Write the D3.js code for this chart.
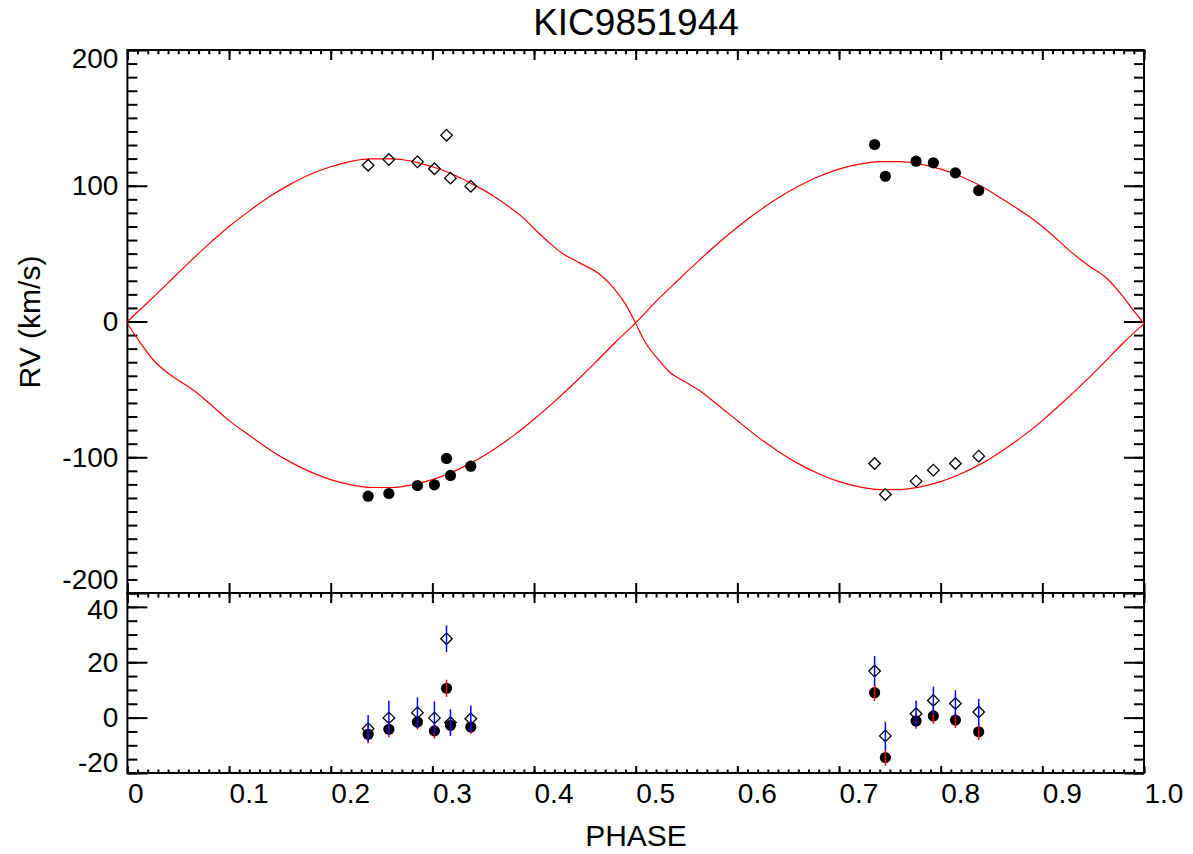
<!DOCTYPE html>
<meta charset="utf-8">
<style>
  body { margin: 0; background: #fff; }
  text { font-family: "Liberation Sans", Arial, Helvetica, sans-serif; fill: #000; }
</style>
<svg width="1193" height="854"></svg>
<script src="https://cdnjs.cloudflare.com/ajax/libs/d3/7.8.5/d3.min.js"></script>
<script>
// model RV curves (phase, km/s)
var modelPhaseA = [0, 0.02, 0.04, 0.06, 0.08, 0.10, 0.12, 0.14, 0.16, 0.18, 0.20, 0.22, 0.24, 0.26, 0.28, 0.30,
  0.32, 0.34, 0.36, 0.38, 0.39, 0.40, 0.415, 0.427, 0.445, 0.465, 0.478, 0.491, 0.50, 0.51, 0.524, 0.533,
  0.55, 0.563, 0.58, 0.60, 0.62, 0.64, 0.66, 0.68, 0.70, 0.72, 0.74, 0.76, 0.78, 0.80, 0.82, 0.84, 0.86,
  0.88, 0.90, 0.92, 0.94, 0.96, 0.98, 1.00];
var modelRvA = [0, 14, 28.5, 43, 57, 70, 81.5, 92, 101, 108.5, 114, 118, 119.8, 119.8, 118, 114,
  108.5, 101, 92.5, 82, 76, 68.5, 58, 50.6, 43.2, 34.5, 25, 11.5, -1.5, -16, -29.5, -37,
  -45, -51, -61, -73, -85, -95.5, -104.7, -112.2, -118, -121.8, -123.8, -123.8, -121.8, -118, -112.2, -104.7, -95.5,
  -85, -73, -59.7, -45.6, -30.8, -15.5, -1.5];

var modelPhaseB = [0, 0.0125, 0.025, 0.039, 0.052, 0.068, 0.084, 0.10, 0.12, 0.14, 0.16, 0.18, 0.20, 0.22, 0.24,
  0.26, 0.28, 0.30, 0.32, 0.34, 0.36, 0.38, 0.40, 0.42, 0.44, 0.46, 0.48, 0.50, 0.52, 0.54, 0.56, 0.58,
  0.60, 0.62, 0.64, 0.66, 0.68, 0.70, 0.72, 0.74, 0.76, 0.78, 0.80, 0.82, 0.84, 0.86, 0.887, 0.907,
  0.927, 0.946, 0.963, 0.976, 0.989, 1.00];
var modelRvB = [-1.5, -15.5, -28, -37.6, -44.2, -52.3, -62.6, -73, -83.9, -94.4, -103.4, -110.8, -116.5, -120.3, -122.3,
  -122.3, -120.3, -116.5, -110.8, -103.4, -94.4, -83.9, -72, -59, -45.1, -30.5, -15.3, -1, 14.8, 29.3, 43.4, 56.9,
  69.4, 80.8, 90.9, 99.6, 106.8, 112.2, 115.9, 117.8, 117.8, 115.9, 112.2, 106.8, 99.6, 90.5, 77.3, 65.6,
  52, 40.9, 32, 21.4, 8.8, -1.5];

// observations
var obsPhase = [0.2368, 0.2572, 0.2853, 0.3020, 0.3139, 0.3178, 0.3378,
  0.7350, 0.7456, 0.7758, 0.7928, 0.8145, 0.8374];
var rvStar1 = [-128.7, -126.7, -120.8, -120.3, -100.9, -113.4, -106.6,
  130.4, 107.0, 118.1, 116.9, 109.5, 96.5];
var rvStar2 = [115.1, 119.3, 117.6, 112.5, 137.2, 105.6, 99.7,
  -104.6, -127.4, -117.6, -109.5, -104.6, -99.2];
var resStar1 = [-6.0, -4.2, -1.6, -4.8, 10.6, -2.8, -3.4, 9.0, -14.4, -1.2, 0.6, -0.9, -5.1];
var errStar1 = [3.3, 2.9, 2.7, 2.8, 3.1, 3.0, 2.5, 3.0, 3.0, 2.8, 2.8, 2.8, 3.0];
var resStar2 = [-4.0, -0.1, 1.8, -0.1, 28.5, -1.8, -0.4, 16.8, -6.6, 1.4, 6.2, 5.1, 2.0];
var errStar2 = [4.9, 6.2, 5.5, 5.9, 4.8, 4.8, 4.8, 5.4, 5.1, 4.8, 5.0, 4.8, 4.8];

// ticks
var xMajor = [0, 0.1, 0.2, 0.3, 0.4, 0.5, 0.6, 0.7, 0.8, 0.9, 1.0];
var xLabels = ["0", "0.1", "0.2", "0.3", "0.4", "0.5", "0.6", "0.7", "0.8", "0.9", "1.0"];
var yTopMajor = [-200, -100, 0, 100, 200];
var yBotMajor = [-20, 0, 20, 40];

var svg = d3.select("svg");

var x = d3.scaleLinear().domain([0, 1]).range([127.4, 1144]);
var yTop = d3.scaleLinear().domain([-200, 200]).range([593, 50]);
var yBot = d3.scaleLinear().domain([-20, 45]).range([773, 593]);

var xMinor = d3.range(0, 101).map(function(i) { return i / 100; });
var yTopMinor = d3.range(-200, 201, 10);
var yBotMinor = d3.range(-20, 46, 5);

function tickOnly(axis, vals, size) {
  return axis.tickValues(vals).tickSize(size).tickFormat("");
}
function addAxis(tr, axis) {
  var g = svg.append("g").attr("transform", tr).call(axis);
  g.select(".domain").remove();
  g.selectAll("line").attr("stroke-width", 2);
  return g;
}
function plain(d) { return String(d); }

// top panel: top edge
addAxis("translate(0,50)", tickOnly(d3.axisTop(x), xMinor, -4.3));
addAxis("translate(0,50)", tickOnly(d3.axisTop(x), xMajor, -10));
// shared edge between the panels
addAxis("translate(0,593)", tickOnly(d3.axisBottom(x), xMajor, -10));
addAxis("translate(0,593)", tickOnly(d3.axisTop(x), xMinor, -4.5));
addAxis("translate(0,593)", tickOnly(d3.axisTop(x), xMajor, -10));
// bottom edge with labels
addAxis("translate(0,773)", tickOnly(d3.axisBottom(x), xMinor, -3.5));
var xg = addAxis("translate(0,773)", d3.axisBottom(x).tickValues(xMajor).tickSize(-7).tickPadding(10)
  .tickFormat(function(d, i) { return xLabels[i]; }));
xg.selectAll("text").attr("text-anchor", "start").attr("font-size", 28)
  .attr("font-family", "Liberation Sans, Arial, sans-serif");

// top panel y axes
addAxis("translate(127.4,0)", tickOnly(d3.axisLeft(yTop), yTopMinor, -10));
var ylt = addAxis("translate(127.4,0)", d3.axisLeft(yTop).tickValues(yTopMajor).tickSize(-20).tickPadding(9)
  .tickFormat(plain));
addAxis("translate(1144,0)", tickOnly(d3.axisRight(yTop), yTopMinor, -10));
addAxis("translate(1144,0)", tickOnly(d3.axisRight(yTop), yTopMajor, -20));

// bottom panel y axes
addAxis("translate(127.4,0)", tickOnly(d3.axisLeft(yBot), yBotMinor, -10));
var ylb = addAxis("translate(127.4,0)", d3.axisLeft(yBot).tickValues(yBotMajor).tickSize(-20).tickPadding(9)
  .tickFormat(plain));
addAxis("translate(1144,0)", tickOnly(d3.axisRight(yBot), yBotMinor, -10));
addAxis("translate(1144,0)", tickOnly(d3.axisRight(yBot), yBotMajor, -20));

[ylt, ylb].forEach(function(g) {
  g.selectAll("text").attr("font-size", 28).attr("font-family", "Liberation Sans, Arial, sans-serif");
});
// edge labels sit inside the frame like the original
ylt.selectAll("text").attr("dy", function(d) { return d === 200 ? 17 : d === -200 ? -5 : 9; });
ylb.selectAll("text").attr("dy", function(d) { return d === -20 ? -2 : d === 40 ? 12 : 9; });

// frames
svg.append("rect").attr("x", 127.4).attr("y", 50).attr("width", 1144 - 127.4).attr("height", 543)
  .attr("fill", "none").attr("stroke", "#000").attr("stroke-width", 2);
svg.append("rect").attr("x", 127.4).attr("y", 593).attr("width", 1144 - 127.4).attr("height", 180)
  .attr("fill", "none").attr("stroke", "#000").attr("stroke-width", 2);

// model curves
var lineA = d3.line().x(function(d, i) { return x(modelPhaseA[i]); }).y(function(d) { return yTop(d); })
  .curve(d3.curveMonotoneX);
var lineB = d3.line().x(function(d, i) { return x(modelPhaseB[i]); }).y(function(d) { return yTop(d); })
  .curve(d3.curveMonotoneX);
svg.append("path").attr("d", lineA(modelRvA)).attr("fill", "none").attr("stroke", "#ff0000").attr("stroke-width", 1.2);
svg.append("path").attr("d", lineB(modelRvB)).attr("fill", "none").attr("stroke", "#ff0000").attr("stroke-width", 1.2);

var diamond = "M0,-5.8L5.8,0L0,5.8L-5.8,0Z";

// top panel points
svg.append("g").selectAll("circle").data(rvStar1).enter().append("circle")
  .attr("cx", function(d, i) { return x(obsPhase[i]); })
  .attr("cy", function(d) { return yTop(d); })
  .attr("r", 5.6).attr("fill", "#000");
svg.append("g").selectAll("path").data(rvStar2).enter().append("path")
  .attr("d", diamond)
  .attr("transform", function(d, i) { return "translate(" + x(obsPhase[i]) + "," + yTop(d) + ")"; })
  .attr("fill", "none").attr("stroke", "#000").attr("stroke-width", 1.3);

// residual panel
svg.append("g").selectAll("circle").data(resStar1).enter().append("circle")
  .attr("cx", function(d, i) { return x(obsPhase[i]); })
  .attr("cy", function(d) { return yBot(d); })
  .attr("r", 5.6).attr("fill", "#000");
svg.append("g").selectAll("line").data(resStar1).enter().append("line")
  .attr("x1", function(d, i) { return x(obsPhase[i]); })
  .attr("x2", function(d, i) { return x(obsPhase[i]); })
  .attr("y1", function(d, i) { return yBot(d - errStar1[i]); })
  .attr("y2", function(d, i) { return yBot(d + errStar1[i]); })
  .attr("stroke", "#ff0000").attr("stroke-width", 1.5);
svg.append("g").selectAll("path").data(resStar2).enter().append("path")
  .attr("d", diamond)
  .attr("transform", function(d, i) { return "translate(" + x(obsPhase[i]) + "," + yBot(d) + ")"; })
  .attr("fill", "none").attr("stroke", "#000").attr("stroke-width", 1.3);
svg.append("g").selectAll("line").data(resStar2).enter().append("line")
  .attr("x1", function(d, i) { return x(obsPhase[i]); })
  .attr("x2", function(d, i) { return x(obsPhase[i]); })
  .attr("y1", function(d, i) { return yBot(d - errStar2[i]); })
  .attr("y2", function(d, i) { return yBot(d + errStar2[i]); })
  .attr("stroke", "#0000ff").attr("stroke-width", 1.5);

// titles
svg.append("text").attr("x", 636).attr("y", 35).attr("text-anchor", "middle")
  .attr("font-size", 37).text("KIC9851944");
svg.append("text").attr("x", 636).attr("y", 846).attr("text-anchor", "middle")
  .attr("font-size", 30).text("PHASE");
svg.append("text").attr("transform", "translate(40,322) rotate(-90)").attr("text-anchor", "middle")
  .attr("font-size", 30).text("RV (km/s)");
</script>
